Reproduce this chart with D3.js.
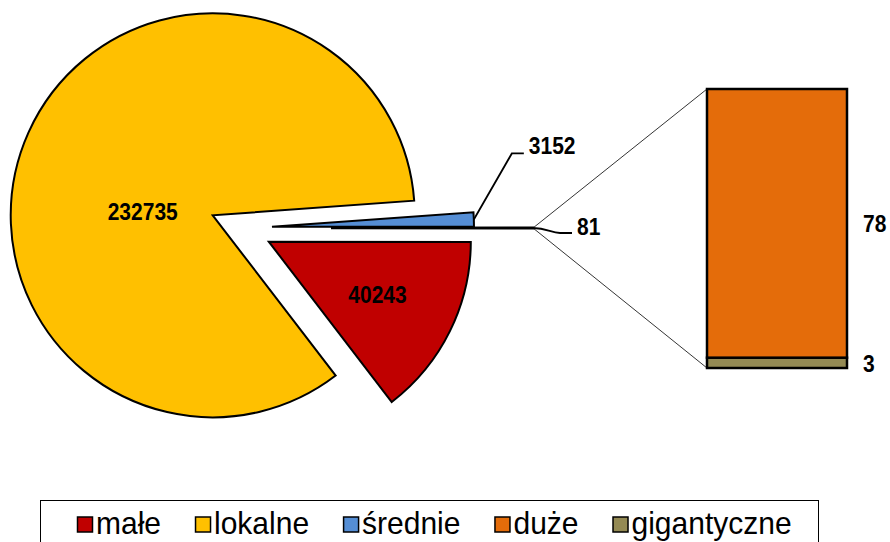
<!DOCTYPE html>
<html>
<head>
<meta charset="utf-8">
<script src="https://cdn.jsdelivr.net/npm/d3@7"></script>
<style>
  html, body { margin: 0; padding: 0; background: #fff; }
  svg { display: block; }
</style>
</head>
<body>
<svg id="chart" width="890" height="542"></svg>
<script>
// ---- data ----
const categories = ["małe", "lokalne", "średnie", "duże", "gigantyczne"];
const values = [40243, 232735, 3152, 78, 3];
const colors = ["#C00000", "#FFC000", "#558ED5", "#E46C0A", "#948A54"];
const pieCount = 3;               // first three go to the pie, rest to the bar

// ---- layout ----
const W = 890, H = 542;
const cx = 241, cy = 228, R = 202;
const explode = 31, explodeOther = 90;
const barX0 = 707, barX1 = 847, barTop = 89, barBottom = 368;

const svg = d3.select("#chart");

const pieItems = categories.slice(0, pieCount).map((c, i) => ({ name: c, value: values[i], color: colors[i] }));
const barItems = categories.slice(pieCount).map((c, i) => ({ name: c, value: values[pieCount + i], color: colors[pieCount + i] }));
const otherValue = d3.sum(barItems, d => d.value);
pieItems.push({ name: "other", value: otherValue, color: "#000", other: true });

const total = d3.sum(pieItems, d => d.value);
const otherA = 2 * Math.PI * otherValue / total;
const start = Math.PI / 2 + otherA / 2;

const pie = d3.pie().sort(null).value(d => d.value)
  .startAngle(start).endAngle(start + 2 * Math.PI);
const arcs = pie(pieItems);
const arc = d3.arc().innerRadius(0).outerRadius(R);

function offset(d) {
  const m = (d.startAngle + d.endAngle) / 2;
  const e = d.data.other ? explodeOther : explode;
  return [cx + e * Math.sin(m), cy - e * Math.cos(m)];
}

const gPie = svg.append("g");
arcs.forEach(d => {
  const [ox, oy] = offset(d);
  d.ox = ox; d.oy = oy;
  gPie.append("path")
    .attr("transform", `translate(${ox},${oy})`)
    .attr("d", arc(d))
    .attr("fill", d.data.color)
    .attr("stroke", "#000")
    .attr("stroke-width", d.data.other ? 2.5 : 2)
    .attr("stroke-linejoin", "miter");
});

// ---- bar of pie ----
const y = d3.scaleLinear().domain([0, otherValue]).range([barBottom, barTop]);
const stackData = [];
let acc = 0;
for (let i = barItems.length - 1; i >= 0; i--) {
  stackData.push({ ...barItems[i], y0: acc, y1: acc + barItems[i].value });
  acc += barItems[i].value;
}
const gBar = svg.append("g");
gBar.selectAll("rect").data(stackData).join("rect")
  .attr("x", barX0).attr("width", barX1 - barX0)
  .attr("y", d => y(d.y1)).attr("height", d => y(d.y0) - y(d.y1))
  .attr("fill", d => d.color)
  .attr("stroke", "#000").attr("stroke-width", 2.5);

// connector lines
const otherArc = arcs[arcs.length - 1];
const om = (otherArc.startAngle + otherArc.endAngle) / 2;
const oTipX = otherArc.ox + R * Math.sin(om), oTipY = otherArc.oy - R * Math.cos(om);
svg.append("line").attr("x1", oTipX).attr("y1", oTipY).attr("x2", barX0).attr("y2", y(otherValue))
  .attr("stroke", "#000").attr("stroke-width", 0.8);
svg.append("line").attr("x1", oTipX).attr("y1", oTipY).attr("x2", barX0).attr("y2", y(0))
  .attr("stroke", "#000").attr("stroke-width", 0.8);

// ---- labels ----
const labelFont = "'Liberation Sans', Arial, sans-serif";
function label(x, yy, text, anchor) {
  svg.append("text")
    .attr("transform", `translate(${x},${yy}) scale(1,1.1)`)
    .attr("text-anchor", anchor || "middle")
    .attr("dominant-baseline", "central")
    .attr("font-family", labelFont).attr("font-weight", "bold").attr("font-size", 21)
    .attr("fill", "#000").text(text);
}
const fmt = v => String(v);

// lokalne
{
  const d = arcs[1];
  label(d.ox - 70, d.oy - 3, fmt(d.data.value));
}
// małe
{
  const d = arcs[0];
  const c = d3.arc().innerRadius(0).outerRadius(R * 1.2).centroid(d);
  label(d.ox + c[0], d.oy + c[1], fmt(d.data.value));
}
// średnie with leader
{
  const d = arcs[2];
  const m = (d.startAngle + d.endAngle) / 2;
  const sx = d.ox + R * Math.sin(m), sy = d.oy - R * Math.cos(m);
  const kx = sx + 38, ky = sy - 66;
  svg.append("path").attr("d", `M${sx},${sy}L${kx},${ky}L${kx + 12},${ky}`)
    .attr("fill", "none").attr("stroke", "#000").attr("stroke-width", 1.8);
  label(kx + 17, ky - 7, fmt(d.data.value), "start");
}
// other (sum) with leader
{
  const sx = oTipX, sy = oTipY;
  svg.append("path").attr("d", `M${sx},${sy}C${sx + 14},${sy} ${sx + 18},${sy + 5} ${sx + 27},${sy + 5}L${sx + 39},${sy + 5}`)
    .attr("fill", "none").attr("stroke", "#000").attr("stroke-width", 1.8);
  label(sx + 44, sy - 1, fmt(otherValue), "start");
}
// bar labels
stackData.forEach(d => {
  label(barX1 + 16, (y(d.y0) + y(d.y1)) / 2 + 1, fmt(d.value), "start");
});

// ---- legend ----
const lg = svg.append("g");
lg.append("rect").attr("x", 40.5).attr("y", 500.5).attr("width", 778).attr("height", 60)
  .attr("fill", "#fff").attr("stroke", "#000").attr("stroke-width", 1);
let lx = 77;
const ly = 523, sq = 15;
categories.forEach((c, i) => {
  lg.append("rect").attr("x", lx + 0.5).attr("y", ly - sq / 2 + 1.5).attr("width", sq).attr("height", sq)
    .attr("fill", colors[i]).attr("stroke", "#000").attr("stroke-width", 1.5);
  const t = lg.append("text")
    .attr("transform", `translate(${lx + sq + 4},${ly}) scale(1,1.06)`)
    .attr("dominant-baseline", "central")
    .attr("font-family", labelFont).attr("font-size", 30).attr("fill", "#000")
    .text(c);
  const w = t.node().getComputedTextLength();
  lx = lx + sq + 4 + w + 34;
});
</script>
</body>
</html>
